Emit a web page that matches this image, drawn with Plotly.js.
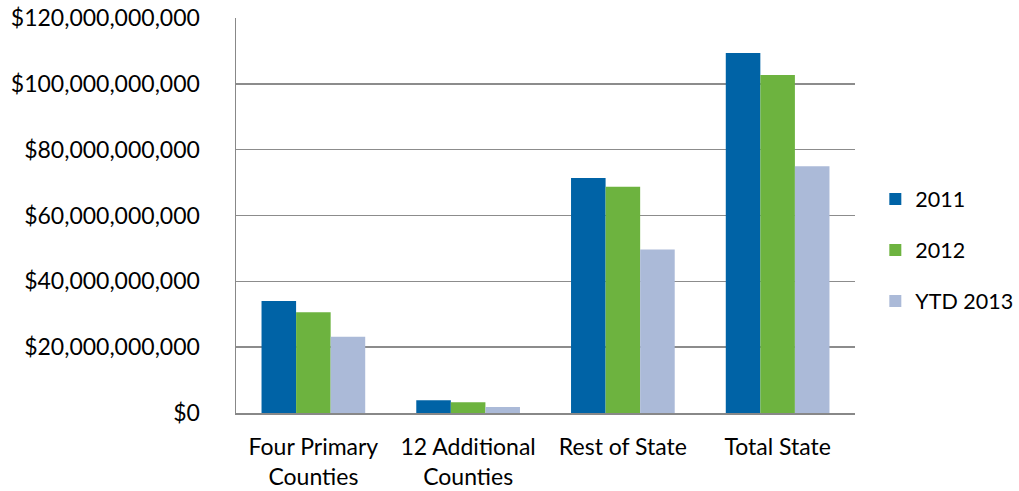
<!DOCTYPE html>
<html>
<head>
<meta charset="utf-8">
<script src="https://cdn.plot.ly/plotly-3.0.1.min.js"></script>
<style>html,body{margin:0;padding:0;background:#fff;}#chart{width:1019px;height:491px;}</style>
</head>
<body>
<div id="chart"></div>
<script>
const categories = ["Four Primary<br>Counties", "12 Additional<br>Counties", "Rest of State", "Total State"];
const seriesNames = ["2011", "2012", "YTD 2013"];
const values2011 = [34.0e9, 3.9e9, 71.4e9, 109.4e9];
const values2012 = [30.6e9, 3.25e9, 68.7e9, 102.7e9];
const valuesYTD2013 = [23.2e9, 1.8e9, 49.7e9, 75.0e9];
const yTickVals = [0, 20e9, 40e9, 60e9, 80e9, 100e9, 120e9];
const yTickText = ["$0", "$20,000,000,000", "$40,000,000,000", "$60,000,000,000", "$80,000,000,000", "$100,000,000,000", "$120,000,000,000"];

const colors = ["#0063A6", "#6DB33F", "#ABBAD8"];
const allValues = [values2011, values2012, valuesYTD2013];
const font = "Lato, 'Open Sans', sans-serif";
const fs = 23;

const traces = allValues.map((v, i) => ({
  type: "bar",
  x: categories,
  y: v,
  name: seriesNames[i],
  legendgroup: "g" + i,
  marker: {color: colors[i], line: {width: 0}},
  hoverinfo: "y"
}));

const layout = {
  width: 1019, height: 491,
  margin: {l: 236, r: 164, t: 18, b: 78},
  paper_bgcolor: "#fff", plot_bgcolor: "#fff",
  font: {family: font, size: fs, color: "#000"},
  barmode: "group",
  bargap: 0.33,
  bargroupgap: 0,
  showlegend: true,
  legend: {
    xref: "container", yref: "container",
    x: 0.859, xanchor: "left", y: (491 - 250) / 491, yanchor: "middle",
    font: {family: font, size: 21.5, color: "#000"},
    tracegroupgap: 20, itemwidth: 30,
    bgcolor: "rgba(0,0,0,0)"
  },
  xaxis: {
    showgrid: false, showline: true, linecolor: "#888", linewidth: 1.5,
    ticks: "outside", ticklen: 13, tickcolor: "rgba(0,0,0,0)",
    tickfont: {family: font, size: fs, color: "#000"}
  },
  yaxis: {
    range: [0, 120e9], tickmode: "array", tickvals: yTickVals, ticktext: yTickText,
    showgrid: true, gridcolor: "#8c8c8c", gridwidth: 1.5,
    showline: true, linecolor: "#888", linewidth: 1.5,
    zeroline: false,
    ticks: "outside", ticklen: 30, tickcolor: "rgba(0,0,0,0)",
    tickfont: {family: font, size: fs, color: "#000"}
  }
};

Plotly.newPlot("chart", traces, layout, {displayModeBar: false, staticPlot: true});
</script>
</body>
</html>
